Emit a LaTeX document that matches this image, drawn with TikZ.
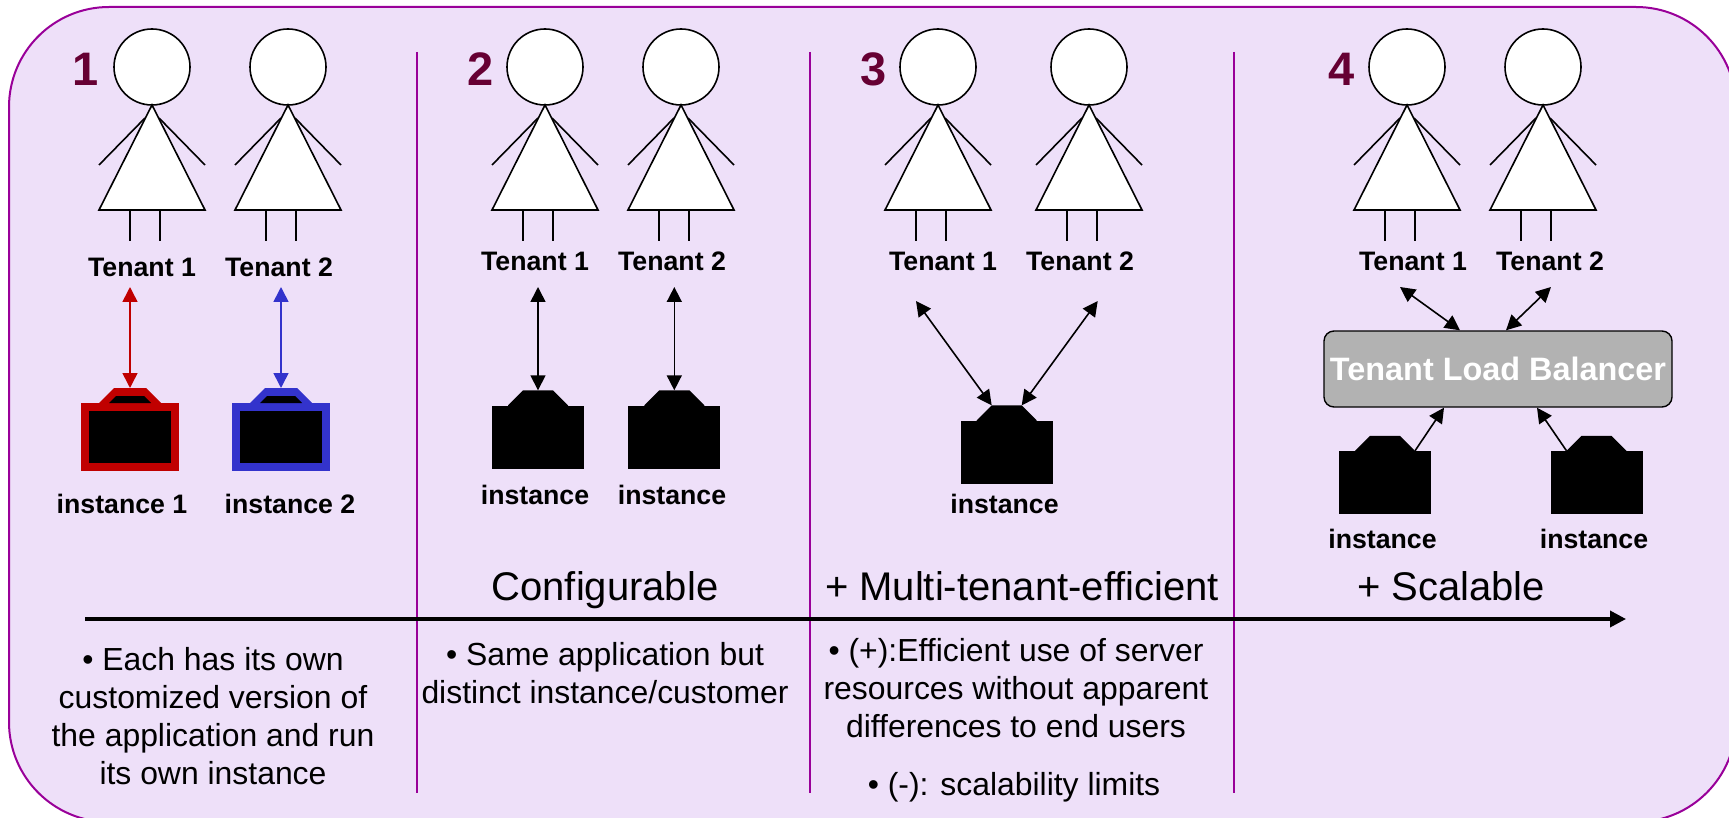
\documentclass[tikz,border=0pt]{standalone}
\usepackage{fontspec}
\setmainfont{Liberation Sans}
\usepackage{tikz}
\usetikzlibrary{positioning,calc,arrows.meta}
\definecolor{mylilac}{HTML}{EEE0F9}
\definecolor{mypurple}{HTML}{990099}
\definecolor{mymaroon}{HTML}{660033}
\definecolor{myred}{HTML}{C00000}
\definecolor{myblue}{HTML}{3333CC}
\definecolor{mygray}{HTML}{B2B2B2}
% figure of one tenant, head is the named node
\newcommand{\tenantfig}[2]{
\node[head] (#1) at (#2,67) {};
\draw[figline,fill=white] (#2,105) -- (#2-53,210) -- (#2+53,210) -- cycle;
\draw[figline] (#2-7,118) -- (#2-53,165);
\draw[figline] (#2+7,118) -- (#2+53,165);
\draw[figline] (#2-22,210) -- (#2-22,241);
\draw[figline] (#2+8,210) -- (#2+8,241);
}
% plain black instance: name, centre x, centre y of the body
\newcommand{\instblack}[3]{
\node[instbody,minimum width=92,minimum height=63] (#1) at (#2,#3) {};
\coordinate (#1t) at ($(#1.north)+(0,-15)$);
\coordinate (#1tl) at ($(#1.north)+(-15,-15)$);
\coordinate (#1tr) at ($(#1.north)+(15,-15)$);
\coordinate (#1bl) at ($(#1.north)+(-30,0)$);
\coordinate (#1br) at ($(#1.north)+(30,0)$);
\fill[black] ($(#1bl)+(0,2)$) -- (#1bl) -- (#1tl) -- (#1tr) -- (#1br) -- ($(#1br)+(0,2)$) -- cycle;
}
% instance with a coloured rim
\newcommand{\instrim}[4]{
\node[instbody,draw=#4,line width=8pt,minimum width=90,minimum height=60] (#1) at (#2,#3) {};
\coordinate (#1t) at ($(#1.north)+(0,-15)$);
\fill[#4] ($(#1.north)+(-31,0)$) -- ($(#1.north)+(-16,-15)$) -- ($(#1.north)+(16,-15)$) -- ($(#1.north)+(31,0)$) -- cycle;
\fill[black] ($(#1.north)+(-21,0)$) -- ($(#1.north)+(-14,-7)$) -- ($(#1.north)+(14,-7)$) -- ($(#1.north)+(21,0)$) -- cycle;
}

\begin{document}
\begin{tikzpicture}[x=1pt,y=-1pt,
head/.style={circle,draw,fill=white,line width=1.6pt,minimum size=76,inner sep=0pt,outer sep=0pt},
figline/.style={line width=1.6pt,line join=miter},
instbody/.style={rectangle,fill=black,inner sep=0pt},
who/.style={font=\fontsize{26.7}{30}\bfseries\selectfont},
num/.style={font=\fontsize{47}{50}\bfseries\selectfont,color=mymaroon},
stage/.style={font=\fontsize{40}{44}\selectfont,anchor=base},
desc/.style={font=\fontsize{31.9}{38}\selectfont,align=center},
edge/.style={{Triangle[length=15pt,width=15pt]}-{Triangle[length=15pt,width=15pt]},line width=1.6pt},
upedge/.style={-{Triangle[length=15pt,width=15pt]},line width=1.6pt},
sep/.style={color=mypurple,line width=1.6pt}]

\useasboundingbox (0,0) rectangle (1729,818);

% frame
\path[fill=mylilac,draw=mypurple,line width=2pt,rounded corners=100pt]
  (9,7) -- (1736,7) -- (1736,822) -- (9,822) -- cycle;

% column separators
\coordinate (s1a) at (417,52); \coordinate (s1b) at (417,793);
\coordinate (s2a) at (810,52); \coordinate (s2b) at (810,793);
\coordinate (s3a) at (1234,52); \coordinate (s3b) at (1234,793);
\draw[sep] (s1a) -- (s1b);
\draw[sep] (s2a) -- (s2b);
\draw[sep] (s3a) -- (s3b);

% numbers
\node[num] (n1) at (86,69) {1};
\node[num] (n2) at (481,69) {2};
\node[num] (n3) at (874,69) {3};
\node[num] (n4) at (1342,69) {4};

% tenants
\tenantfig{t11}{152}
\tenantfig{t12}{288}
\tenantfig{t21}{545}
\tenantfig{t22}{681}
\tenantfig{t31}{938}
\tenantfig{t32}{1089}
\tenantfig{t41}{1407}
\tenantfig{t42}{1543}

% tenant labels
\node[who] (l11) at (142,267) {Tenant 1};
\node[who] (l12) at (279,267) {Tenant 2};
\node[who] (l21) at (535,261) {Tenant 1};
\node[who] (l22) at (672,261) {Tenant 2};
\node[who] (l31) at (943,261) {Tenant 1};
\node[who] (l32) at (1080,261) {Tenant 2};
\node[who] (l41) at (1413,261) {Tenant 1};
\node[who] (l42) at (1550,261) {Tenant 2};

% instances
\instrim{i11}{130}{437}{myred}
\instrim{i12}{281}{437}{myblue}
\instblack{i21}{538}{437}
\instblack{i22}{674.3}{437}
\instblack{i31}{1006.7}{452}
\instblack{i41}{1385}{482.5}
\instblack{i42}{1596.5}{482.5}

% instance labels
\node[who] (m11) at (122,504) {instance 1};
\node[who] (m12) at (290,504) {instance 2};
\node[who] (m21) at (535,495) {instance};
\node[who] (m22) at (672,495) {instance};
\node[who] (m31) at (1004.5,504) {instance};
\node[who] (m41) at (1382.5,539) {instance};
\node[who] (m42) at (1594,539) {instance};

% balancer
\node[rectangle,rounded corners=10pt,draw,line width=1.4pt,fill=mygray,minimum width=348,minimum height=76,inner sep=0pt,text=white,font=\fontsize{32.4}{36}\bfseries\selectfont] (lb) at (1498,369) {\raisebox{-2pt}{Tenant Load Balancer}};

% free arrow ends under the labels
\coordinate (a11) at (130,287);
\coordinate (a12) at (281,287);
\coordinate (a21) at (538,287);
\coordinate (a22) at (674.3,287);
\coordinate (a31) at (916,301);
\coordinate (a32) at (1097.7,301);
\coordinate (a41) at (1400,287);
\coordinate (a42) at (1551,287);

\draw[edge,color=myred] (a11) -- (i11t);
\draw[edge,color=myblue] (a12) -- (i12t);
\draw[edge] (a21) -- (i21t);
\draw[edge] (a22) -- (i22t);
\draw[edge] (a31) -- (i31tl);
\draw[edge] (a32) -- (i31tr);
\draw[edge] (a41) -- ($(lb.north)+(-38,0)$);
\draw[edge] (a42) -- ($(lb.north)+(8,0)$);
\draw[upedge] (i41br) -- ($(lb.south)+(-54,0)$);
\draw[upedge] (i42bl) -- ($(lb.south)+(39,0)$);

% stage names
\node[stage] (c2) at (605,600) {Configurable};
\node[stage] (c3) at (1022,600) {+ Multi-tenant-efficient};
\node[stage] (c4) at (1451,600) {+ Scalable};

% time line
\coordinate (ts) at (85,619);
\coordinate (te) at (1626,619);
\draw[-{Triangle[length=16pt,width=16pt]},line width=3.6pt] (ts) -- (te);

% notes
\node[desc] (d1) at (213,716) {• Each has its own\\customized version of\\the application and run\\its own instance};
\node[desc] (d2) at (605,673) {• Same application but\\distinct instance/customer};
\node[desc] (d3) at (1016,688) {• (+):Efficient use of server\\resources without apparent\\differences to end users};
\node[desc] (d4) at (1014,787) {• (-): scalability limits};

\end{tikzpicture}
\end{document}
